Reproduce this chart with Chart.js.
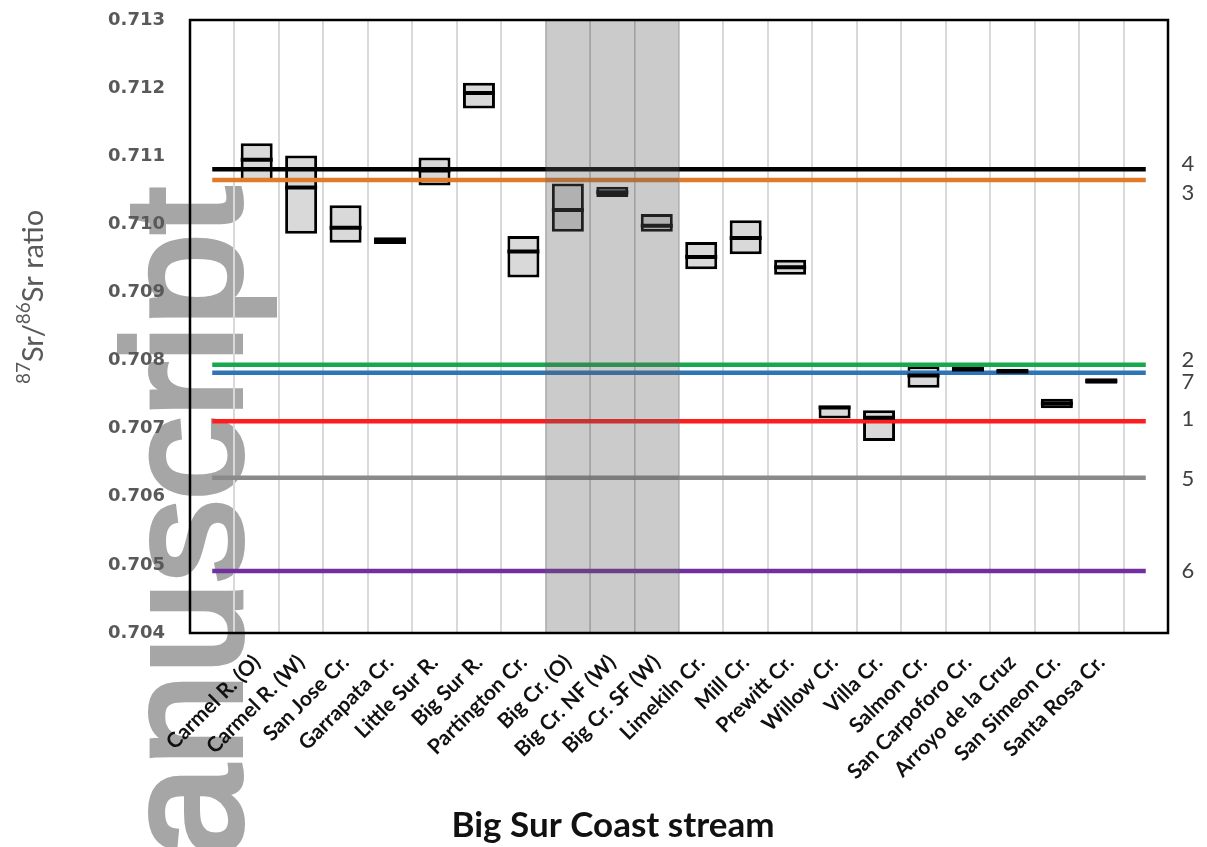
<!DOCTYPE html>
<html>
<head>
<meta charset="utf-8">
<script src="https://cdn.jsdelivr.net/npm/chart.js@4"></script>
<style>
  html, body { margin: 0; padding: 0; background: #fff; }
  #wrap { width: 1207px; height: 847px; position: relative; }
</style>
</head>
<body>
<div id="wrap"><canvas id="myChart"></canvas></div>
<script>
// streams along the Big Sur coast, north to south
const streams = [
  'Carmel R. (O)', 'Carmel R. (W)', 'San Jose Cr.', 'Garrapata Cr.', 'Little Sur R.',
  'Big Sur R.', 'Partington Cr.', 'Big Cr. (O)', 'Big Cr. NF (W)', 'Big Cr. SF (W)',
  'Limekiln Cr.', 'Mill Cr.', 'Prewitt Cr.', 'Willow Cr.', 'Villa Cr.',
  'Salmon Cr.', 'San Carpoforo Cr.', 'Arroyo de la Cruz', 'San Simeon Cr.', 'Santa Rosa Cr.'
];
// 87Sr/86Sr range and median for each stream
const srMin = [
  0.71062, 0.70986, 0.70973, 0.70971, 0.71057,
  0.71170, 0.70922, 0.70989, 0.71040, 0.70989,
  0.70934, 0.70956, 0.70926, 0.70715, 0.70682,
  0.70760, 0.70782, 0.70780, 0.70730, 0.70766
];
const srMax = [
  0.71119, 0.71101, 0.71028, 0.70981, 0.71098,
  0.71208, 0.70983, 0.71060, 0.71055, 0.71015,
  0.70974, 0.71006, 0.70948, 0.70734, 0.70727,
  0.70792, 0.70792, 0.70788, 0.70744, 0.70774
];
const srMedian = [
  0.71095, 0.71054, 0.70995, 0.70976, 0.71079,
  0.71193, 0.70960, 0.71021, 0.71047, 0.70998,
  0.70952, 0.70980, 0.70937, 0.70731, 0.70716,
  0.70778, 0.70787, 0.70784, 0.70737, 0.70770
];
const shadedStreams = ['Big Cr. (O)', 'Big Cr. NF (W)', 'Big Cr. SF (W)'];

// reference end-member values (horizontal lines)
const refLabels = ['4', '3', '2', '7', '1', '5', '6'];
const refValues = [0.71081, 0.71065, 0.70794, 0.70782, 0.70711, 0.70628, 0.70491];
const refColors = ['#000000', '#e07b2a', '#16a84c', '#2e75b6', '#ff1c1c', '#8a8a8a', '#7030a0'];
const labelNudge = [-5, 13, -5, 9, -2, 1, 0];

const yTicks = [0.704, 0.705, 0.706, 0.707, 0.708, 0.709, 0.710, 0.711, 0.712, 0.713];

const labels = ['', ...streams, ''];
const pad = arr => [null, ...arr, null];

Chart.defaults.font.family = 'Lato';

const decorations = {
  id: 'decorations',
  beforeDraw(chart) {
    const ctx = chart.ctx;
    ctx.save();
    ctx.translate(240, 188);
    ctx.rotate(-Math.PI / 2);
    ctx.font = '165px "Liberation Sans"';
    ctx.fillStyle = '#a6a6a6';
    ctx.strokeStyle = '#a6a6a6';
    ctx.lineWidth = 6;
    ctx.textAlign = 'right';
    ctx.textBaseline = 'alphabetic';
    ctx.fillText('Manuscript', 0, 0);
    ctx.strokeText('Manuscript', 0, 0);
    ctx.restore();
  },
  afterDraw(chart) {
    const ctx = chart.ctx;
    const a = chart.chartArea;
    const y = chart.scales.y;
    ctx.save();
    // plot frame
    ctx.strokeStyle = '#000';
    ctx.lineWidth = 2.5;
    ctx.strokeRect(a.left, a.top, a.right - a.left, a.bottom - a.top);

    // labels of the reference lines
    ctx.fillStyle = '#404040';
    ctx.font = '22px Lato';
    ctx.textAlign = 'center';
    ctx.textBaseline = 'middle';
    refLabels.forEach((t, i) => {
      ctx.fillText(t, 1188, y.getPixelForValue(refValues[i]) + labelNudge[i]);
    });

    // y title with superscripts
    const parts = [['87', true], ['Sr/', false], ['86', true], ['Sr ratio', false]];
    const big = '29px Lato', small = '19px Lato';
    let w = 0;
    parts.forEach(p => { ctx.font = p[1] ? small : big; w += ctx.measureText(p[0]).width; });
    ctx.translate(43, 297);
    ctx.rotate(-Math.PI / 2);
    ctx.fillStyle = '#595959';
    ctx.textAlign = 'left';
    ctx.textBaseline = 'alphabetic';
    let x = -w / 2;
    parts.forEach(p => {
      ctx.font = p[1] ? small : big;
      ctx.fillText(p[0], x, p[1] ? -13 : 0);
      x += ctx.measureText(p[0]).width;
    });
    ctx.setTransform(1, 0, 0, 1, 0, 0);

    // x title
    ctx.fillStyle = '#111';
    ctx.font = 'bold 35px Lato';
    ctx.textAlign = 'center';
    ctx.fillText('Big Sur Coast stream', 613, 837);
    ctx.restore();
  }
};

new Chart(document.getElementById('myChart'), {
  type: 'bar',
  data: {
    labels: labels,
    datasets: [
      {
        label: 'shade',
        data: labels.map(l => shadedStreams.includes(l) ? [yTicks[0], yTicks[yTicks.length - 1]] : null),
        backgroundColor: 'rgba(96,96,96,0.33)',
        borderWidth: 0,
        barPercentage: 1,
        categoryPercentage: 1,
        grouped: false,
        order: 0
      },
      {
        type: 'line',
        label: 'median',
        data: pad(srMedian),
        showLine: false,
        pointStyle: 'line',
        pointRadius: 16,
        pointBorderWidth: 4,
        pointBorderColor: '#000',
        order: 1
      },
      ...refValues.map((v, i) => ({
        type: 'line',
        label: refLabels[i],
        data: labels.map(() => v),
        borderColor: refColors[i],
        borderWidth: 4.5,
        pointRadius: 0,
        fill: false,
        order: 2
      })),
      {
        label: 'range',
        data: pad(streams.map((s, i) => [srMin[i], srMax[i]])),
        backgroundColor: '#d9d9d9',
        borderColor: '#000',
        borderWidth: 3,
        borderSkipped: false,
        barPercentage: 0.72,
        categoryPercentage: 1,
        grouped: false,
        order: 3
      }
    ]
  },
  options: {
    responsive: true,
    maintainAspectRatio: false,
    animation: false,
    layout: { padding: { top: 17, right: 39, bottom: 0, left: 0 } },
    plugins: { legend: { display: false }, tooltip: { enabled: false } },
    scales: {
      x: {
        offset: true,
        grid: { display: true, offset: true, color: '#d9d9d9', lineWidth: 2, drawTicks: false },
        border: { display: false },
        ticks: {
          autoSkip: false, minRotation: 45, maxRotation: 45, padding: 17,
          color: '#111', font: { family: 'Lato', weight: 'bold', size: 21 }
        },
        afterFit: s => { s.height = 214; s.paddingLeft = 0; s.paddingRight = 0; }
      },
      y: {
        min: yTicks[0],
        max: yTicks[yTicks.length - 1],
        grid: { display: false, drawTicks: false },
        border: { display: false },
        afterBuildTicks: s => { s.ticks = yTicks.map(v => ({ value: v })); },
        ticks: {
          padding: 25, color: '#595959',
          font: { family: 'DejaVu Sans', weight: 'bold', size: 18 },
          callback: v => v.toFixed(3)
        },
        afterFit: s => { s.width = 190; s.paddingTop = 0; s.paddingBottom = 0; }
      }
    }
  },
  plugins: [decorations]
});
</script>
</body>
</html>
